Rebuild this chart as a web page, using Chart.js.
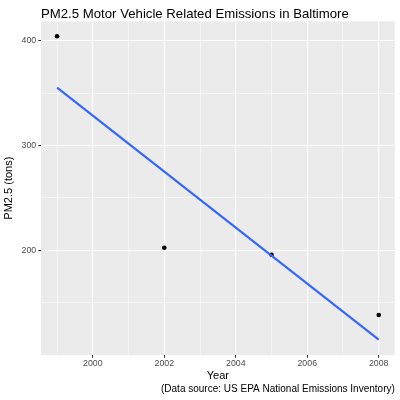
<!DOCTYPE html>
<html>
<head>
<meta charset="utf-8">
<script src="https://cdn.jsdelivr.net/npm/chart.js@4/dist/chart.umd.min.js"></script>
<style>html,body{margin:0;padding:0;background:#fff}canvas{display:block}</style>
</head>
<body>
<canvas id="c" width="400" height="400"></canvas>
<script>
const chartTitle = 'PM2.5 Motor Vehicle Related Emissions in Baltimore';
const xTitle = 'Year';
const yTitle = 'PM2.5 (tons)';
const caption = '(Data source: US EPA National Emissions Inventory)';

const years = [1999, 2002, 2005, 2008];
const emissions = [404.2, 202.5, 195.8, 138.3];

const fitYears = [1999, 2008];
const fitValues = [355.3, 114.7];

const xTicks = [1999, 2000, 2001, 2002, 2003, 2004, 2005, 2006, 2007, 2008];
const xLabels = [2000, 2002, 2004, 2006, 2008];
const yTicks = [150, 200, 250, 300, 350, 400];
const yLabels = [200, 300, 400];
const xRange = [1998.55, 2008.45];
const yRange = [100.1, 418.5];

const FONT = '"Liberation Sans", Arial, Helvetica, sans-serif';

const isMajorX = v => xLabels.includes(v);
const isMajorY = v => yLabels.includes(v);

const ggPlugin = {
  id: 'ggStyle',
  beforeDraw(chart) {
    const ctx = chart.ctx, a = chart.chartArea;
    ctx.save();
    ctx.fillStyle = '#FFFFFF';
    ctx.fillRect(0, 0, chart.width, chart.height);
    ctx.fillStyle = '#EBEBEB';
    ctx.fillRect(a.left, a.top, a.right - a.left, a.bottom - a.top);
    ctx.restore();
  },
  afterDraw(chart) {
    const ctx = chart.ctx;
    ctx.save();
    ctx.font = '13.2px ' + FONT;
    ctx.fillStyle = '#000000';
    ctx.textAlign = 'left';
    ctx.textBaseline = 'alphabetic';
    ctx.fillText(chartTitle, chart.chartArea.left, 18.3);
    ctx.restore();
  }
};

function gridOpts(isMajor) {
  return {
    color: '#FFFFFF',
    lineWidth: c => (c.tick && isMajor(c.tick.value)) ? 1.07 : 0.53,
    drawTicks: true,
    tickLength: 2.75,
    tickWidth: 1.07,
    tickColor: c => (c.tick && isMajor(c.tick.value)) ? '#333333' : 'rgba(0,0,0,0)'
  };
}

new Chart(document.getElementById('c'), {
  type: 'scatter',
  data: {
    datasets: [
      {
        label: 'lm',
        data: fitYears.map((x, i) => ({x: x, y: fitValues[i]})),
        showLine: true,
        borderColor: '#3366FF',
        borderWidth: 2.13,
        borderCapStyle: 'butt',
        pointRadius: 0,
        fill: false,
        tension: 0,
        order: 0
      },
      {
        label: 'PM2.5',
        data: years.map((x, i) => ({x: x, y: emissions[i]})),
        backgroundColor: '#000000',
        borderWidth: 0,
        pointRadius: 2.3,
        order: 1
      }
    ]
  },
  options: {
    responsive: false,
    animation: false,
    layout: { padding: { top: 21.3, right: 5.2, bottom: 0, left: 0 } },
    plugins: {
      legend: { display: false },
      tooltip: { enabled: false },
      title: { display: false },
      subtitle: {
        display: true,
        text: caption,
        position: 'bottom',
        align: 'end',
        color: '#000000',
        font: { family: FONT, size: 10, lineHeight: 1.2, weight: 'normal' },
        padding: { top: 0, bottom: 5 }
      }
    },
    scales: {
      x: {
        type: 'linear',
        min: xRange[0],
        max: xRange[1],
        afterBuildTicks: s => { s.ticks = xTicks.map(v => ({value: v})); },
        afterFit: s => { s.height = 28; },
        ticks: {
          autoSkip: false,
          maxRotation: 0,
          minRotation: 0,
          padding: 1,
          color: '#4D4D4D',
          font: { family: FONT, size: 8.8, lineHeight: 1.2 },
          callback: v => isMajorX(v) ? String(v) : ''
        },
        grid: gridOpts(isMajorX),
        border: { display: false },
        title: {
          display: true,
          text: xTitle,
          color: '#000000',
          font: { family: FONT, size: 11, lineHeight: 1.2 },
          padding: { top: 0, bottom: 0.4 }
        }
      },
      y: {
        type: 'linear',
        min: yRange[0],
        max: yRange[1],
        afterBuildTicks: s => { s.ticks = yTicks.map(v => ({value: v})); },
        afterFit: s => { s.width = 41; },
        ticks: {
          autoSkip: false,
          padding: 2,
          color: '#4D4D4D',
          font: { family: FONT, size: 8.8, lineHeight: 1.2 },
          callback: v => isMajorY(v) ? String(v) : ''
        },
        grid: gridOpts(isMajorY),
        border: { display: false },
        title: {
          display: true,
          text: yTitle,
          color: '#000000',
          font: { family: FONT, size: 11, lineHeight: 1.2 },
          padding: { top: 2, bottom: 0 }
        }
      }
    }
  },
  plugins: [ggPlugin]
});
</script>
</body>
</html>
